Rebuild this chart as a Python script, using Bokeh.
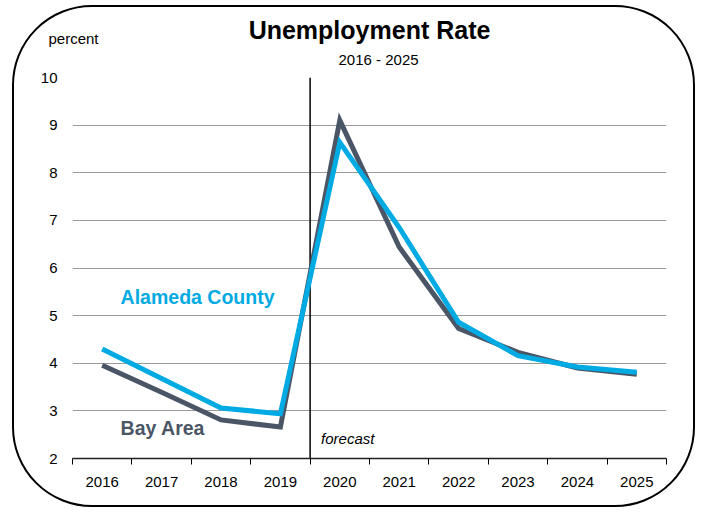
from bokeh.plotting import figure
from bokeh.models import FixedTicker, Label, ColumnDataSource, Title
from bokeh.embed import file_html
from bokeh.resources import INLINE

years = [2016, 2017, 2018, 2019, 2020, 2021, 2022, 2023, 2024, 2025]
alameda = [4.30, 3.68, 3.06, 2.94, 8.64, 6.85, 4.86, 4.16, 3.92, 3.81]
bay_area = [3.96, 3.39, 2.81, 2.66, 9.10, 6.44, 4.73, 4.23, 3.90, 3.77]
y_ticks = [2, 3, 4, 5, 6, 7, 8, 9, 10]
forecast_start = 2019.5

SANS = "'Liberation Sans', Arial, sans-serif"
BLUE = "#00AAE2"
SLATE = "#4A5566"

W, H = 683, 502
x_lo = years[0] - 0.5
x_hi = years[-1] + 0.5

p = figure(width=W, height=H, output_backend="svg", toolbar_location=None, title=None,
           x_range=(x_lo, x_hi), y_range=(y_ticks[0], y_ticks[-1]),
           min_border_left=58, min_border_top=70, min_border_right=31, min_border_bottom=51)
p.styles = {"border": "2px solid #000", "border-radius": "80px",
            "margin-left": "12px", "margin-top": "5px"}
p.outline_line_color = None
p.background_fill_color = None
p.border_fill_color = None

# x axis
p.xaxis.ticker = FixedTicker(ticks=years, minor_ticks=[y - 0.5 for y in years] + [x_hi])
p.xaxis.major_tick_out = 0
p.xaxis.major_tick_in = 0
p.xaxis.minor_tick_out = 6
p.xaxis.minor_tick_in = 0
p.xaxis.minor_tick_line_color = "#000"
p.xaxis.axis_line_color = "#222"
p.xaxis.axis_line_width = 1.5
p.xaxis.major_label_text_font = SANS
p.xaxis.major_label_text_font_size = "15px"
p.xaxis.major_label_text_color = "#000"
p.xaxis.major_label_standoff = 12

# y axis
p.yaxis.ticker = FixedTicker(ticks=y_ticks)
p.yaxis.axis_line_color = None
p.yaxis.major_tick_line_color = None
p.yaxis.major_tick_out = 0
p.yaxis.major_tick_in = 0
p.yaxis.minor_tick_line_color = None
p.yaxis.major_label_text_font = SANS
p.yaxis.major_label_text_font_size = "15px"
p.yaxis.major_label_text_color = "#000"
p.yaxis.major_label_standoff = 15

p.xgrid.grid_line_color = None
p.ygrid.ticker = FixedTicker(ticks=y_ticks[1:])
p.ygrid.grid_line_color = "#9a9a9a"
p.ygrid.grid_line_width = 1

# titles (first added sits nearest the plot)
p.add_layout(Title(text="2016 - 2025", align="left", offset=266, standoff=19,
                   text_font=SANS, text_font_size="15px", text_font_style="normal",
                   text_color="#000"), "above")
p.add_layout(Title(text="percent", align="left", offset=-24, standoff=-15,
                   text_font=SANS, text_font_size="15px", text_font_style="normal",
                   text_color="#000"), "above")
p.add_layout(Title(text="Unemployment Rate", align="center", standoff=-17,
                   text_font=SANS, text_font_size="25px", text_font_style="bold",
                   text_color="#000"), "above")

# forecast divider
p.segment(x0=[forecast_start], y0=[y_ticks[0]], x1=[forecast_start], y1=[y_ticks[-1]],
          line_color="#000", line_width=1.5)

src = ColumnDataSource(dict(x=years, a=alameda, b=bay_area))
p.line("x", "b", source=src, line_color=SLATE, line_width=5, line_join="miter")
p.line("x", "a", source=src, line_color=BLUE, line_width=5, line_join="miter")

p.add_layout(Label(x=forecast_start, y=y_ticks[0], x_offset=11, y_offset=20, text="forecast",
                   text_align="left", text_baseline="middle", text_font=SANS,
                   text_font_size="15px", text_font_style="italic", text_color="#000"))
p.add_layout(Label(x=2016.31, y=5.40, text="Alameda County",
                   text_align="left", text_baseline="middle", text_font=SANS,
                   text_font_size="19.5px", text_font_style="bold", text_color=BLUE))
p.add_layout(Label(x=2016.31, y=2.65, text="Bay Area",
                   text_align="left", text_baseline="middle", text_font=SANS,
                   text_font_size="19.5px", text_font_style="bold", text_color=SLATE))

open("out.html", "w").write(file_html(p, INLINE))
